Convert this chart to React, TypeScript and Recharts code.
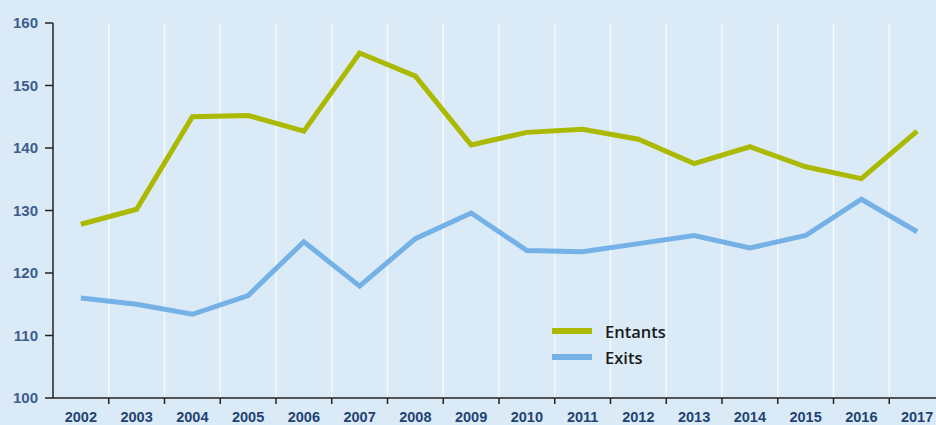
import { LineChart, Line, XAxis, YAxis, CartesianGrid } from 'recharts';

const years = ['2002', '2003', '2004', '2005', '2006', '2007', '2008', '2009', '2010', '2011', '2012', '2013', '2014', '2015', '2016', '2017'];
const entants = [127.8, 130.2, 145.0, 145.2, 142.7, 155.2, 151.5, 140.5, 142.5, 143.0, 141.4, 137.5, 140.2, 137.0, 135.1, 142.7];
const exits = [116.0, 115.0, 113.4, 116.4, 125.0, 117.9, 125.5, 129.6, 123.6, 123.4, 124.7, 126.0, 124.0, 126.0, 131.8, 126.6];
const yTicks = [100, 110, 120, 130, 140, 150, 160];

const data = years.map((year, i) => ({ year, entants: entants[i], exits: exits[i] }));

const CHART_W = 946;
const CHART_H = 425;
const Y_W = 53;
const M_RIGHT = 1;
const PLOT_W = CHART_W - Y_W - M_RIGHT;
const BAND = PLOT_W / years.length;

const GREEN = '#abba00';
const BLUE = '#74b1e6';
const Y_LABEL = '#3c5d8e';
const X_LABEL = '#1f4373';

const series = [
  { key: 'entants', name: 'Entants', color: GREEN },
  { key: 'exits', name: 'Exits', color: BLUE },
];

// ticks sit on the band boundaries, labels in the middle
const XTick = (props: any) => {
  const { x, y, payload, index } = props;
  const bx = x + BAND / 2;
  return (
    <g>
      {index < years.length - 1 && (
        <line x1={bx} y1={y} x2={bx} y2={y + 6} stroke="#222" strokeWidth={1.5} />
      )}
      <text x={x} y={y + 24} textAnchor="middle" fill={X_LABEL} fontSize={14.5} fontWeight="bold" fontFamily="'Liberation Sans', Arial, sans-serif">
        {payload.value}
      </text>
    </g>
  );
};

export default function App() {
  return (
    <div style={{ position: 'fixed', left: 0, top: 0, width: 936, height: 425, overflow: 'hidden', background: '#dbeaf7' }}>
      <LineChart width={CHART_W} height={CHART_H} data={data} margin={{ top: 23, right: M_RIGHT, bottom: 0, left: 0 }}>
        <CartesianGrid
          horizontal={false}
          stroke="#ffffff"
          strokeOpacity={0.7}
          strokeWidth={1.5}
          verticalCoordinatesGenerator={({ offset }: any) =>
            years.slice(1).map((_, i) => offset.left + BAND * (i + 1))
          }
        />
        <XAxis
          dataKey="year"
          padding={{ left: BAND / 2, right: BAND / 2 }}
          height={27}
          tickSize={0}
          tickMargin={0}
          tick={<XTick />}
          interval={0}
          axisLine={{ stroke: '#222', strokeWidth: 1.5 }}
        />
        <YAxis
          domain={[100, 160]}
          ticks={yTicks}
          width={Y_W}
          tickSize={8}
          tickMargin={7}
          axisLine={{ stroke: '#222', strokeWidth: 1.5 }}
          tickLine={{ stroke: '#222', strokeWidth: 1.5 }}
          tick={{ fill: Y_LABEL, fontSize: 15, fontWeight: 'bold', fontFamily: "'Liberation Sans', Arial, sans-serif" }}
        />
        {series.map((s) => (
          <Line key={s.key} dataKey={s.key} name={s.name} stroke={s.color} strokeWidth={5} dot={false} isAnimationActive={false} />
        ))}
      </LineChart>
      {/* legend sits inside the plot, lower middle */}
      <div style={{ position: 'absolute', left: 552, top: 318, fontFamily: "'Open Sans', sans-serif", fontSize: 16.5, fontWeight: 600, color: '#1a1a1a' }}>
        {series.map((s) => (
          <div key={s.key} style={{ display: 'flex', alignItems: 'center', height: 26 }}>
            <span style={{ display: 'inline-block', width: 40, height: 6, background: s.color, marginRight: 13 }} />
            {s.name}
          </div>
        ))}
      </div>
    </div>
  );
}
